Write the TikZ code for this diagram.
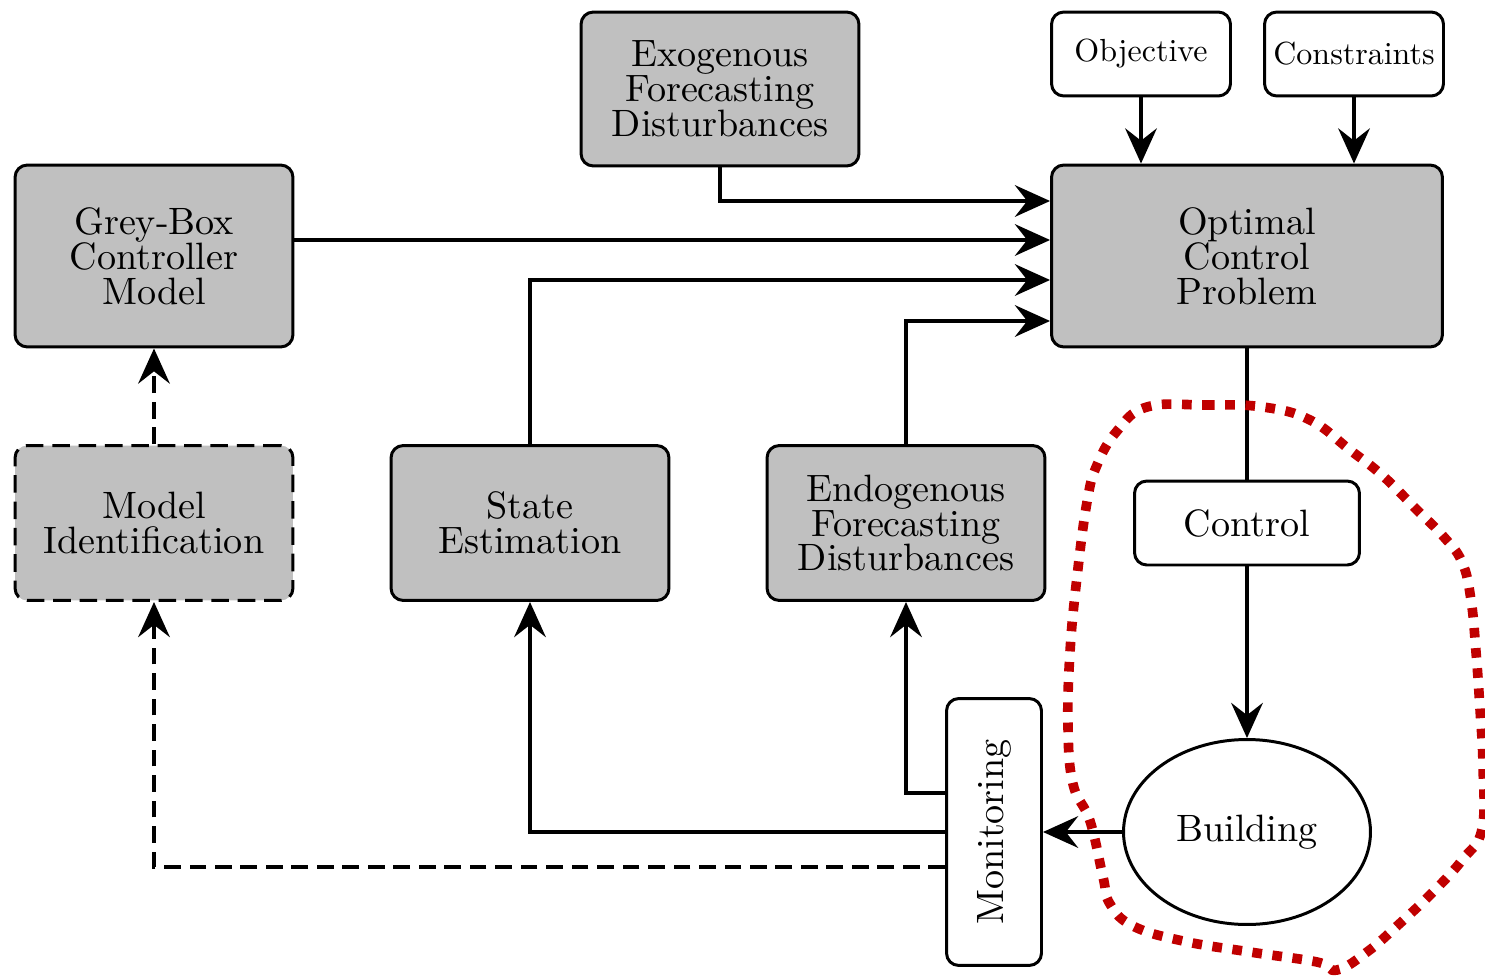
\documentclass[tikz,border=0pt]{standalone}
\usepackage{graphicx}
\usepackage{fontspec}
\setmainfont{lmroman10-regular}[Extension=.otf]
\usetikzlibrary{arrows.meta,shapes.geometric,calc}
\definecolor{boxgray}{RGB}{192,192,192}
\definecolor{loopred}{RGB}{192,0,0}

\begin{document}
\begin{tikzpicture}[x=0.02cm,y=-0.02cm,
  base/.style={draw, line width=1.7pt, rounded corners=7pt, align=center,
    inner sep=0pt, font=\fontsize{21.7pt}{19.8pt}\selectfont},
  graybox/.style={base, fill=boxgray, minimum width=5.56cm, minimum height=3.1cm},
  whitebox/.style={base, fill=white},
  smallbox/.style={whitebox, minimum width=3.58cm, minimum height=1.68cm,
    font=\fontsize{18.2pt}{20pt}\selectfont},
  conn/.style={line width=2.3pt, -{Stealth[length=20pt, width=18pt, inset=7pt]}},
  plain/.style={line width=2.3pt},
  dashconn/.style={conn, dash pattern=on 9.5pt off 5pt},
  loop/.style={loopred, line width=5.5pt, dash pattern=on 5.5pt off 6pt}
]
\useasboundingbox (0,0) rectangle (1485,977);

% top row
\node[graybox, minimum height=3.08cm] (exo) at (720,89) {Exogenous\\Forecasting\\Disturbances};
\node[smallbox] (obj) at (1141,54) {Objective};
\node[smallbox] (cons) at (1354,54) {Constraints};

% middle row
\node[graybox, minimum height=3.64cm] (grey) at (154,256) {Grey-Box\\Controller\\Model};
\node[graybox, minimum width=7.82cm, minimum height=3.64cm] (ocp) at (1247,256) {Optimal\\Control\\Problem};

% lower row
\node[graybox, dash pattern=on 10pt off 5pt] (modid) at (154,523) {Model\\Identification};
\node[graybox] (state) at (530,523) {State\\Estimation};
\node[graybox] (endo) at (906,523) {Endogenous\\Forecasting\\Disturbances};
\node[whitebox, minimum width=4.5cm, minimum height=1.68cm] (ctrl) at (1247,523) {Control};

% plant and measurements
\node[base, ellipse, rounded corners=0pt, fill=white, minimum width=4.94cm, minimum height=3.7cm] (bldg) at (1247,832) {Building};
\node[whitebox, minimum width=1.9cm, minimum height=5.34cm] (mon) at (994,832) {\rotatebox{90}{Monitoring}};

% inputs of the optimal control problem
\draw[conn] (exo.south) |- ($(ocp.west)+(0,-55)$);
\draw[conn] ($(grey.east)+(0,-16)$) -- ($(ocp.west)+(0,-16)$);
\draw[conn] (state.north) |- ($(ocp.west)+(0,24)$);
\draw[conn] (endo.north) |- ($(ocp.west)+(0,65)$);
\draw[conn] (obj.south) -- (obj.south |- ocp.north);
\draw[conn] (cons.south) -- (cons.south |- ocp.north);

% control loop
\draw[plain] (ocp.south) -- (ctrl.north);
\draw[conn] (ctrl.south) -- (bldg.north);
\draw[conn] (bldg.west) -- (mon.east);

% feedback from monitoring
\draw[conn] ($(mon.west)+(0,-39)$) -| (endo.south);
\draw[conn] (mon.west) -| (state.south);
\draw[dashconn] ($(mon.west)+(0,35)$) -| (modid.south);
\draw[dashconn] (modid.north) -- (grey.south);

% highlighted region around the plant
\draw[loop] plot[smooth cycle, tension=0.7] coordinates {
  (1147,407) (1205,405) (1263,407) (1310,420) (1350,450) (1383,476)
  (1417,510) (1443,536) (1462,562) (1471,600) (1476,652) (1480,709)
  (1483,765) (1482,829) (1463,859) (1433,892) (1397,926) (1367,952)
  (1337,970) (1317,962) (1250,952) (1183,941) (1133,926) (1110,904)
  (1103,877) (1090,821) (1073,784) (1068,727) (1070,652) (1077,577)
  (1087,502) (1097,465) (1117,431)};
\end{tikzpicture}
\end{document}
